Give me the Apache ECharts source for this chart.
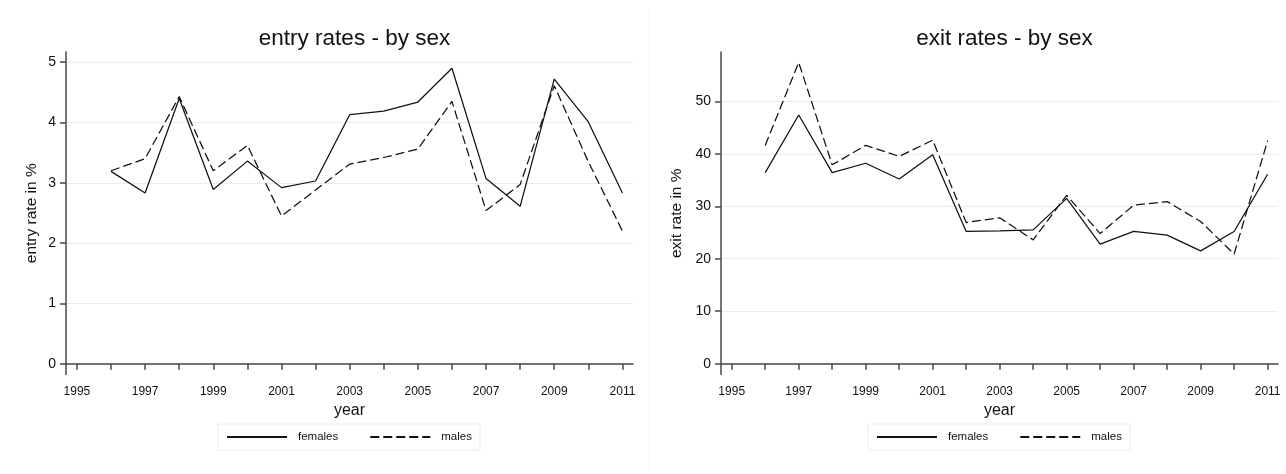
<!DOCTYPE html>
<html>
<head>
<meta charset="utf-8">
<script src="https://cdn.jsdelivr.net/npm/echarts@6/dist/echarts.min.js"></script>
<style>
html,body{margin:0;padding:0;background:#fff;}
#chart{width:1286px;height:474px;}
</style>
</head>
<body>
<div id="chart"></div>
<script>
const years = [1996,1997,1998,1999,2000,2001,2002,2003,2004,2005,2006,2007,2008,2009,2010,2011];
const entryFemales = [3.19,2.83,4.40,2.89,3.36,2.92,3.03,4.13,4.19,4.34,4.90,3.07,2.61,4.72,4.01,2.83];
const entryMales   = [3.20,3.40,4.43,3.20,3.62,2.45,2.88,3.31,3.42,3.56,4.35,2.54,2.97,4.61,3.35,2.20];
const exitFemales  = [36.4,47.4,36.4,38.2,35.2,39.8,25.2,25.3,25.5,31.5,22.8,25.2,24.5,21.5,25.2,36.1];
const exitMales    = [41.6,57.4,37.9,41.6,39.5,42.6,26.9,27.8,23.6,32.1,24.8,30.2,30.9,27.1,20.9,42.5];
const xTickYears  = [1995,1996,1997,1998,1999,2000,2001,2002,2003,2004,2005,2006,2007,2008,2009,2010,2011];
const xLabelYears = [1995,1997,1999,2001,2003,2005,2007,2009,2011];
const entryTicks = [0,1,2,3,4,5];
const exitTicks  = [0,10,20,30,40,50];
const seriesNames = ['females','males'];
const titles = ['entry rates - by sex','exit rates - by sex'];
const yNames = ['entry rate in %','exit rate in %'];

const FONT = 'Liberation Sans, Arial, sans-serif';
const axisCol = '#4a4a4a';

function pairs(vals){ return years.map((y,i)=>[y, vals[i]]); }

function xAxis(gi){
  return {
    type:'value', gridIndex:gi, min:1994.68, max:2011.31,
    name:'year', nameLocation:'middle', nameGap:26,
    nameTextStyle:{fontFamily:FONT,fontSize:16,color:'#111'},
    axisLine:{show:true,lineStyle:{color:axisCol,width:1.5}},
    axisTick:{show:true,length:6,lineStyle:{color:axisCol,width:1.5},customValues:xTickYears},
    axisLabel:{customValues:xLabelYears,formatter:v=>String(v),fontFamily:FONT,fontSize:12,color:'#111',margin:11},
    splitLine:{show:false}
  };
}
function yAxis(gi,min,max,ticks,name,gap){
  return {
    type:'value', gridIndex:gi, min:min, max:max,
    name:name, nameLocation:'middle', nameGap:gap, nameRotate:90,
    nameTextStyle:{fontFamily:FONT,fontSize:15.5,color:'#111'},
    axisLine:{show:true,lineStyle:{color:axisCol,width:1.5}},
    axisTick:{show:true,length:6,lineStyle:{color:axisCol,width:1.5},customValues:ticks},
    axisLabel:{customValues:ticks,formatter:v=>String(v),fontFamily:FONT,fontSize:14,color:'#111',margin:10},
    splitLine:{show:true,lineStyle:{color:'#ebebeb',width:1}}
  };
}
function line(name,gi,vals,dashed){
  return {
    type:'line', name:name, xAxisIndex:gi, yAxisIndex:gi,
    data:pairs(vals), symbol:'none', silent:true, animation:false,
    lineStyle:{color:'#111',width:1.25,type: dashed ? [9,4] : 'solid'},
    itemStyle:{color:'#111'}
  };
}
function legend(left){
  return {
    data:seriesNames, left:left, top:424, orient:'horizontal',
    itemWidth:60, itemHeight:14, itemGap:31,
    padding:[7,8], borderColor:'#ececec', borderWidth:1,
    itemStyle:{color:'rgba(0,0,0,0)',borderColor:'rgba(0,0,0,0)',borderWidth:0,opacity:0},
    textStyle:{fontFamily:FONT,fontSize:11.5,color:'#111',padding:[0,0,0,6]},
    selectedMode:false
  };
}

const chart = echarts.init(document.getElementById('chart'), null, {renderer:'canvas'});
chart.setOption({
  backgroundColor:'#fff',
  animation:false,
  title:[
    {text:titles[0], left:349.5, top:22, textAlign:'center', textStyle:{fontFamily:FONT,fontSize:22.5,fontWeight:'normal',color:'#111'}},
    {text:titles[1], left:999.5, top:22, textAlign:'center', textStyle:{fontFamily:FONT,fontSize:22.5,fontWeight:'normal',color:'#111'}}
  ],
  grid:[
    {left:66, top:52, width:567, height:322.5, containLabel:false},
    {left:721, top:52, width:557, height:322.5, containLabel:false}
  ],
  xAxis:[xAxis(0), xAxis(1)],
  yAxis:[
    yAxis(0,-0.18,5.17,entryTicks,yNames[0],26),
    yAxis(1,-2.06,59.4,exitTicks,yNames[1],36)
  ],
  legend:[legend(218), legend(868)],
  graphic:[
    {type:'line', shape:{x1:649.5,y1:7,x2:649.5,y2:472}, style:{stroke:'#f3f3f3',lineWidth:1}, silent:true}
  ],
  series:[
    line(seriesNames[0],0,entryFemales,false),
    line(seriesNames[1],0,entryMales,true),
    line(seriesNames[0],1,exitFemales,false),
    line(seriesNames[1],1,exitMales,true)
  ]
});
</script>
</body>
</html>
